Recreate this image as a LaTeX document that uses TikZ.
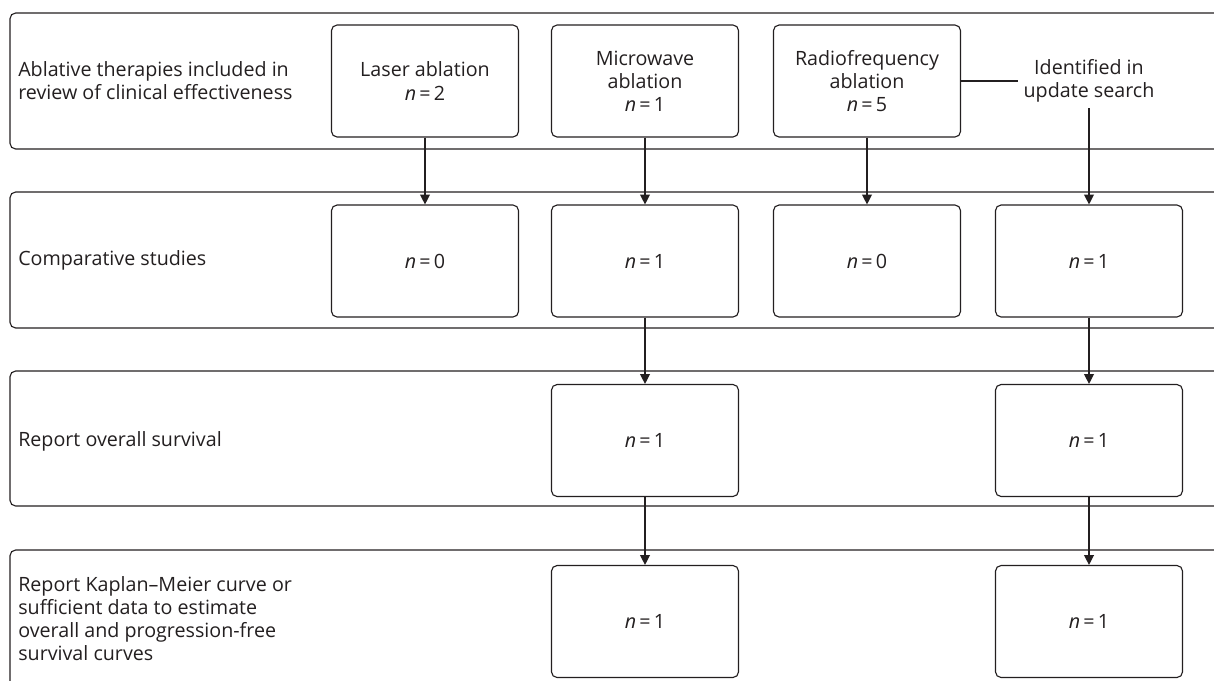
\documentclass[tikz,border=0pt]{standalone}
\usepackage{fontspec}
\setmainfont{Open Sans}
\usetikzlibrary{arrows.meta,positioning}
\definecolor{ink}{HTML}{231F20}
\tikzset{
  stage/.style={draw=ink, line width=0.8pt, rounded corners=4pt, minimum width=4.675cm, minimum height=2.8cm, align=center, text=ink, font=\fontsize{14}{16.4}\selectfont},
  rowlabel/.style={anchor=west, align=left, inner sep=0pt, text=ink, font=\fontsize{14}{16.4}\selectfont},
  band/.style={draw=ink, line width=0.8pt, rounded corners=4pt},
  flow/.style={draw=ink, line width=0.8pt, -{Triangle[length=7pt,width=7pt]}}
}
\newcommand{\nval}[1]{\textit{n}\,=\,#1}
\begin{document}
\begin{tikzpicture}[x=0.025cm,y=-0.025cm]
\useasboundingbox (0,0) rectangle (1214,680);
\draw[band] (1214,13) -- (10,13) -- (10,149) -- (1214,149);
\draw[band] (1214,192) -- (10,192) -- (10,328) -- (1214,328);
\draw[band] (1214,371) -- (10,371) -- (10,506) -- (1214,506);
\draw[band] (1214,550) -- (10,550) -- (10,690);

\node[rowlabel] (ablative) at (18,81) {Ablative therapies included in\\review of clinical effectiveness};
\node[rowlabel] (comparative) at (18,260) {Comparative studies};
\node[rowlabel] (overall) at (18,441) {Report overall survival};
\node[rowlabel] (kaplan) at (18,619) {Report Kaplan--Meier curve or\\sufficient data to estimate\\overall and progression-free\\survival curves};

\node[stage] (laser) at (425,81) {Laser ablation\\\nval{2}};
\node[stage] (micro) at (645,81) {Microwave\\ablation\\\nval{1}};
\node[stage] (radio) at (867,81) {Radiofrequency\\ablation\\\nval{5}};
\node[align=center, inner sep=4pt, text=ink, font=\fontsize{14}{16.4}\selectfont] (update) at (1089,81) {Identified in\\update search};

\node[stage] (laser-comp) at (425,261) {\nval{0}};
\node[stage] (micro-comp) at (645,261) {\nval{1}};
\node[stage] (radio-comp) at (867,261) {\nval{0}};
\node[stage] (update-comp) at (1089,261) {\nval{1}};

\node[stage] (micro-os) at (645,440.5) {\nval{1}};
\node[stage] (update-os) at (1089,440.5) {\nval{1}};

\node[stage] (micro-km) at (645,621.5) {\nval{1}};
\node[stage] (update-km) at (1089,621.5) {\nval{1}};

\draw[draw=ink, line width=0.8pt] (radio) -- (update);
\draw[flow] (laser) -- (laser-comp);
\draw[flow] (micro) -- (micro-comp);
\draw[flow] (radio) -- (radio-comp);
\draw[flow] (update) -- (update-comp);
\draw[flow] (micro-comp) -- (micro-os);
\draw[flow] (update-comp) -- (update-os);
\draw[flow] (micro-os) -- (micro-km);
\draw[flow] (update-os) -- (update-km);
\end{tikzpicture}
\end{document}
